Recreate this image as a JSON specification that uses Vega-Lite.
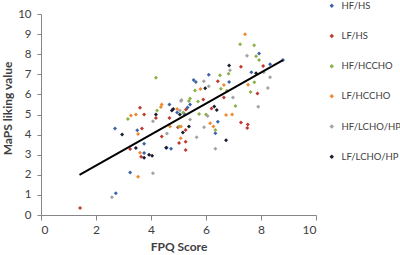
{
  "$schema": "https://vega.github.io/schema/vega-lite/v6.json",
  "width": 275,
  "height": 201,
  "autosize": "none",
  "padding": {"left": 41, "top": 14, "right": 84, "bottom": 40},
  "background": "white",
  "config": {
    "view": {"stroke": null},
    "font": "Lato",
    "axis": {"grid": false, "domainColor": "#868686", "tickColor": "#868686", "labelColor": "#404040", "titleColor": "#404040", "labelFont": "Lato", "titleFont": "Lato", "labelFontSize": 12, "titleFontSize": 12, "titleFontWeight": "bold", "labelOverlap": false}
  },
  "datasets": {
    "pts": [
      {"g": "HF/HS", "fpq": 2.72, "maps": 1.08},
      {"g": "HF/HS", "fpq": 3.24, "maps": 2.12},
      {"g": "HF/HS", "fpq": 2.69, "maps": 4.3},
      {"g": "HF/HS", "fpq": 3.5, "maps": 4.22},
      {"g": "HF/HS", "fpq": 3.75, "maps": 3.55},
      {"g": "HF/HS", "fpq": 3.75, "maps": 3.08},
      {"g": "HF/HS", "fpq": 4.57, "maps": 3.35},
      {"g": "HF/HS", "fpq": 4.73, "maps": 3.3},
      {"g": "HF/HS", "fpq": 4.67, "maps": 5.5},
      {"g": "HF/HS", "fpq": 5.42, "maps": 5.5},
      {"g": "HF/HS", "fpq": 5.33, "maps": 5.35},
      {"g": "HF/HS", "fpq": 5.55, "maps": 6.72},
      {"g": "HF/HS", "fpq": 5.63, "maps": 6.62},
      {"g": "HF/HS", "fpq": 6.1, "maps": 6.98},
      {"g": "HF/HS", "fpq": 6.84, "maps": 6.62},
      {"g": "HF/HS", "fpq": 7.65, "maps": 7.1},
      {"g": "HF/HS", "fpq": 7.93, "maps": 8.04},
      {"g": "HF/HS", "fpq": 8.33, "maps": 7.5},
      {"g": "HF/HS", "fpq": 8.8, "maps": 7.71},
      {"g": "HF/HS", "fpq": 6.43, "maps": 4.64},
      {"g": "HF/HS", "fpq": 6.34, "maps": 4.07},
      {"g": "HF/HS", "fpq": 4.95, "maps": 5.1},
      {"g": "HF/HS", "fpq": 5.2, "maps": 5.05},
      {"g": "LF/HS", "fpq": 1.42, "maps": 0.35},
      {"g": "LF/HS", "fpq": 3.6, "maps": 5.33},
      {"g": "LF/HS", "fpq": 3.75, "maps": 5.0},
      {"g": "LF/HS", "fpq": 4.18, "maps": 4.82},
      {"g": "LF/HS", "fpq": 4.67, "maps": 4.82},
      {"g": "LF/HS", "fpq": 3.67, "maps": 4.3},
      {"g": "LF/HS", "fpq": 3.24, "maps": 3.28},
      {"g": "LF/HS", "fpq": 3.64, "maps": 2.9},
      {"g": "LF/HS", "fpq": 4.39, "maps": 3.9},
      {"g": "LF/HS", "fpq": 4.98, "maps": 4.37},
      {"g": "LF/HS", "fpq": 5.26, "maps": 4.23},
      {"g": "LF/HS", "fpq": 5.02, "maps": 3.58},
      {"g": "LF/HS", "fpq": 5.26, "maps": 3.65},
      {"g": "LF/HS", "fpq": 5.26, "maps": 3.23},
      {"g": "LF/HS", "fpq": 5.27, "maps": 5.25},
      {"g": "LF/HS", "fpq": 7.27, "maps": 4.6},
      {"g": "LF/HS", "fpq": 7.52, "maps": 4.5},
      {"g": "LF/HS", "fpq": 7.5, "maps": 4.33},
      {"g": "LF/HS", "fpq": 6.43, "maps": 6.65},
      {"g": "LF/HS", "fpq": 7.27, "maps": 7.37},
      {"g": "LF/HS", "fpq": 8.08, "maps": 7.41},
      {"g": "LF/HS", "fpq": 7.87, "maps": 6.05},
      {"g": "LF/HS", "fpq": 6.65, "maps": 5.84},
      {"g": "LF/HS", "fpq": 5.9, "maps": 5.75},
      {"g": "LF/HS", "fpq": 6.2, "maps": 5.3},
      {"g": "HF/HCCHO", "fpq": 4.18, "maps": 6.83},
      {"g": "HF/HCCHO", "fpq": 5.6, "maps": 6.2},
      {"g": "HF/HCCHO", "fpq": 3.16, "maps": 4.77},
      {"g": "HF/HCCHO", "fpq": 4.22, "maps": 5.2},
      {"g": "HF/HCCHO", "fpq": 5.38, "maps": 5.67},
      {"g": "HF/HCCHO", "fpq": 5.71, "maps": 5.65},
      {"g": "HF/HCCHO", "fpq": 5.75, "maps": 5.03},
      {"g": "HF/HCCHO", "fpq": 5.02, "maps": 4.4},
      {"g": "HF/HCCHO", "fpq": 6.34, "maps": 4.23},
      {"g": "HF/HCCHO", "fpq": 7.24, "maps": 8.5},
      {"g": "HF/HCCHO", "fpq": 7.75, "maps": 8.45},
      {"g": "HF/HCCHO", "fpq": 7.82, "maps": 7.9},
      {"g": "HF/HCCHO", "fpq": 7.93, "maps": 7.71},
      {"g": "HF/HCCHO", "fpq": 6.82, "maps": 7.03},
      {"g": "HF/HCCHO", "fpq": 6.51, "maps": 6.95},
      {"g": "HF/HCCHO", "fpq": 6.54, "maps": 6.28},
      {"g": "HF/HCCHO", "fpq": 6.76, "maps": 6.18},
      {"g": "HF/HCCHO", "fpq": 7.76, "maps": 6.6},
      {"g": "HF/HCCHO", "fpq": 7.62, "maps": 6.12},
      {"g": "HF/HCCHO", "fpq": 7.07, "maps": 5.42},
      {"g": "HF/HCCHO", "fpq": 5.17, "maps": 5.1},
      {"g": "HF/HCCHO", "fpq": 5.42, "maps": 5.8},
      {"g": "HF/HCCHO", "fpq": 6.0, "maps": 5.0},
      {"g": "LF/HCCHO", "fpq": 3.27, "maps": 4.95},
      {"g": "LF/HCCHO", "fpq": 3.45, "maps": 5.0},
      {"g": "LF/HCCHO", "fpq": 4.36, "maps": 5.37},
      {"g": "LF/HCCHO", "fpq": 4.95, "maps": 5.27},
      {"g": "LF/HCCHO", "fpq": 3.53, "maps": 4.03},
      {"g": "LF/HCCHO", "fpq": 3.6, "maps": 3.1},
      {"g": "LF/HCCHO", "fpq": 3.53, "maps": 1.9},
      {"g": "LF/HCCHO", "fpq": 5.08, "maps": 3.82},
      {"g": "LF/HCCHO", "fpq": 6.15, "maps": 4.57},
      {"g": "LF/HCCHO", "fpq": 6.27, "maps": 4.4},
      {"g": "LF/HCCHO", "fpq": 7.42, "maps": 8.99},
      {"g": "LF/HCCHO", "fpq": 5.8, "maps": 6.27},
      {"g": "LF/HCCHO", "fpq": 6.65, "maps": 6.47},
      {"g": "LF/HCCHO", "fpq": 7.53, "maps": 6.48},
      {"g": "LF/HCCHO", "fpq": 6.73, "maps": 4.98},
      {"g": "LF/HCCHO", "fpq": 4.39, "maps": 5.5},
      {"g": "LF/HCCHO", "fpq": 5.09, "maps": 4.4},
      {"g": "LF/HCCHO", "fpq": 6.95, "maps": 5.0},
      {"g": "LF/HCCHO", "fpq": 4.69, "maps": 4.4},
      {"g": "HF/LCHO/HP", "fpq": 2.58, "maps": 0.88},
      {"g": "HF/LCHO/HP", "fpq": 4.07, "maps": 2.08},
      {"g": "HF/LCHO/HP", "fpq": 4.07, "maps": 4.67},
      {"g": "HF/LCHO/HP", "fpq": 5.09, "maps": 5.67},
      {"g": "HF/LCHO/HP", "fpq": 5.05, "maps": 5.2},
      {"g": "HF/LCHO/HP", "fpq": 5.42, "maps": 4.75},
      {"g": "HF/LCHO/HP", "fpq": 4.58, "maps": 4.05},
      {"g": "HF/LCHO/HP", "fpq": 5.66, "maps": 3.87},
      {"g": "HF/LCHO/HP", "fpq": 5.93, "maps": 4.37},
      {"g": "HF/LCHO/HP", "fpq": 6.34, "maps": 3.3},
      {"g": "HF/LCHO/HP", "fpq": 7.49, "maps": 7.92},
      {"g": "HF/LCHO/HP", "fpq": 6.87, "maps": 7.2},
      {"g": "HF/LCHO/HP", "fpq": 8.33, "maps": 6.85},
      {"g": "HF/LCHO/HP", "fpq": 5.92, "maps": 6.65},
      {"g": "HF/LCHO/HP", "fpq": 6.1, "maps": 6.4},
      {"g": "HF/LCHO/HP", "fpq": 8.25, "maps": 6.32},
      {"g": "HF/LCHO/HP", "fpq": 6.98, "maps": 5.84},
      {"g": "HF/LCHO/HP", "fpq": 7.9, "maps": 5.39},
      {"g": "HF/LCHO/HP", "fpq": 6.06, "maps": 4.93},
      {"g": "HF/LCHO/HP", "fpq": 5.11, "maps": 5.72},
      {"g": "HF/LCHO/HP", "fpq": 8.1, "maps": 7.1},
      {"g": "LF/LCHO/HP", "fpq": 2.95, "maps": 4.0},
      {"g": "LF/LCHO/HP", "fpq": 3.45, "maps": 3.33},
      {"g": "LF/LCHO/HP", "fpq": 3.93, "maps": 3.0},
      {"g": "LF/LCHO/HP", "fpq": 3.75, "maps": 2.85},
      {"g": "LF/LCHO/HP", "fpq": 4.04, "maps": 2.95},
      {"g": "LF/LCHO/HP", "fpq": 4.18, "maps": 5.0},
      {"g": "LF/LCHO/HP", "fpq": 4.76, "maps": 5.2},
      {"g": "LF/LCHO/HP", "fpq": 5.05, "maps": 5.0},
      {"g": "LF/LCHO/HP", "fpq": 4.55, "maps": 3.35},
      {"g": "LF/LCHO/HP", "fpq": 5.16, "maps": 4.1},
      {"g": "LF/LCHO/HP", "fpq": 5.38, "maps": 4.4},
      {"g": "LF/LCHO/HP", "fpq": 6.73, "maps": 3.72},
      {"g": "LF/LCHO/HP", "fpq": 6.84, "maps": 7.44},
      {"g": "LF/LCHO/HP", "fpq": 7.82, "maps": 7.05},
      {"g": "LF/LCHO/HP", "fpq": 5.97, "maps": 6.3},
      {"g": "LF/LCHO/HP", "fpq": 6.39, "maps": 5.22},
      {"g": "LF/LCHO/HP", "fpq": 6.3, "maps": 5.4},
      {"g": "LF/LCHO/HP", "fpq": 4.81, "maps": 5.27}
    ],
    "trend": [
      {"fpq": 1.4, "maps": 2.0},
      {"fpq": 8.8, "maps": 7.7}
    ]
  },
  "layer": [
    {
      "data": {"name": "pts"},
      "mark": {"type": "point", "shape": "diamond", "filled": true, "size": 16, "opacity": 1},
      "encoding": {
        "x": {"field": "fpq", "type": "quantitative", "title": "FPQ Score", "scale": {"domain": [0, 10]}, "axis": {"values": [0, 2, 4, 6, 8, 10], "tickSize": 5, "labelPadding": 4, "titlePadding": 6}},
        "y": {"field": "maps", "type": "quantitative", "title": "MaPS liking value", "scale": {"domain": [0, 10]}, "axis": {"values": [0, 1, 2, 3, 4, 5, 6, 7, 8, 9, 10], "tickCount": 11, "labelOverlap": false, "labelFontSize": 11.5, "tickSize": 4, "labelPadding": 6, "titleX": -27, "titleY": 94}},
        "color": {
          "field": "g", "type": "nominal",
          "scale": {"domain": ["HF/HS", "LF/HS", "HF/HCCHO", "LF/HCCHO", "HF/LCHO/HP", "LF/LCHO/HP"], "range": ["#3B64A8", "#C0392F", "#8DB04A", "#EF8A32", "#A3A3A3", "#1C1C30"]},
          "legend": {"title": null, "orient": "none", "legendX": 286, "legendY": -13, "symbolType": "diamond", "symbolSize": 20, "labelFontSize": 9.5, "labelColor": "#404040", "labelFont": "Lato", "rowPadding": 19.2, "labelOffset": 5, "padding": 0, "labelLimit": 200}
        }
      }
    },
    {
      "data": {"name": "trend"},
      "mark": {"type": "line", "color": "black", "strokeWidth": 2},
      "encoding": {
        "x": {"field": "fpq", "type": "quantitative"},
        "y": {"field": "maps", "type": "quantitative"}
      }
    }
  ]
}
